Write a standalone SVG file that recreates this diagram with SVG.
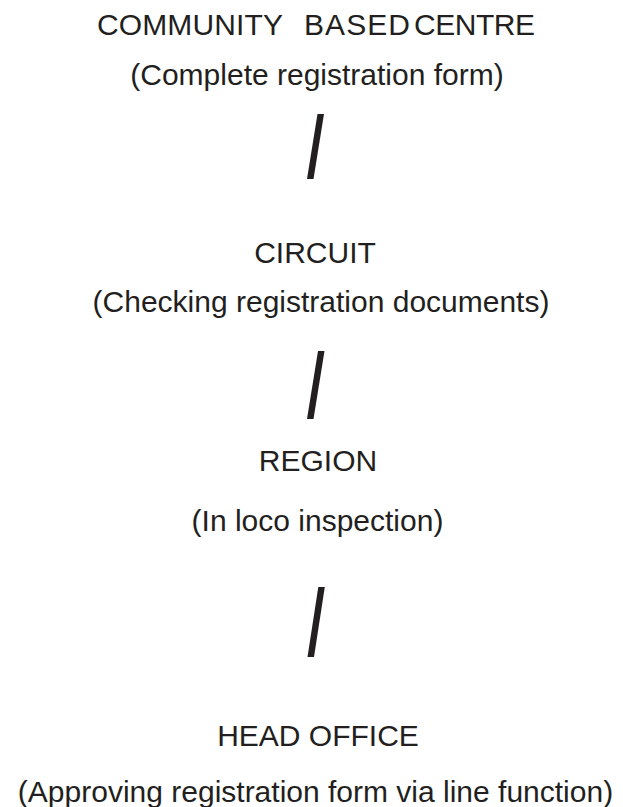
<svg xmlns="http://www.w3.org/2000/svg" width="623" height="807" viewBox="0 0 623 807">
<style>
.t{font-family:"Liberation Sans",Arial,sans-serif;font-size:30px;fill:#231f20}
.c{fill:#231f20}
</style>
<rect width="623" height="807" fill="#fff"/>
<g id="node-community">
<text class="t" y="35"><tspan x="97" textLength="186">COMMUNITY</tspan><tspan x="304" textLength="106">BASED</tspan><tspan x="414" textLength="121">CENTRE</tspan></text>
<text class="t" x="317" y="85" text-anchor="middle">(Complete registration form)</text>
</g>
<g id="node-circuit">
<text class="t" x="315" y="263" text-anchor="middle">CIRCUIT</text>
<text class="t" x="321" y="312" text-anchor="middle">(Checking registration documents)</text>
</g>
<g id="node-region">
<text class="t" x="318" y="471" text-anchor="middle">REGION</text>
<text class="t" x="317.5" y="531" text-anchor="middle">(In loco inspection)</text>
</g>
<g id="node-head-office">
<text class="t" x="318" y="746" text-anchor="middle">HEAD OFFICE</text>
<text class="t" x="315.5" y="802" text-anchor="middle">(Approving registration form via line function)</text>
</g>
<g id="connectors">
<polygon class="c" points="317.5,114 324,114 313.5,179 307,179"/>
<polygon class="c" points="318,351 324.5,351 313.5,419 307,419"/>
<polygon class="c" points="318.3,587 324.8,587 314,657 307.5,657"/>
</g>
</svg>
